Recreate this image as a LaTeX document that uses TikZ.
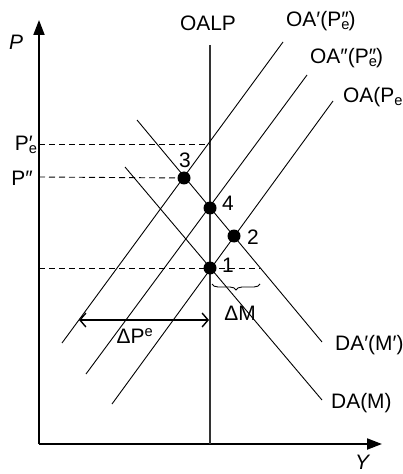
\documentclass[tikz,border=0pt]{standalone}
\usepackage{fontspec}
\setmainfont{Liberation Sans}
\usetikzlibrary{arrows.meta,decorations.pathreplacing}
% prime with subscript e beneath it
\newcommand{\primesub}[1]{\rlap{\textsubscript{e}}#1}

\begin{document}
\begin{tikzpicture}[x=1bp,y=-1bp,
    curve/.style={line width=0.9bp},
    guide/.style={line width=0.9bp, dash pattern=on 6bp off 4bp},
    eqpt/.style={circle, fill, inner sep=0pt, minimum size=13bp},
    lbl/.style={font=\fontsize{21}{24}\selectfont, inner sep=1bp}]
        \useasboundingbox (0,0) rectangle (402,474);
        % axes
        \coordinate (O) at (39,444);
        \coordinate (ytop) at (39,20);
        \coordinate (xend) at (382,444);
        \draw[line width=2bp,-{Triangle[length=15bp,width=11bp]}] (O) -- (ytop);
        \draw[line width=2bp,-{Triangle[length=15bp,width=11bp]}] (O) -- (xend);
        \node[lbl,font=\fontsize{21}{24}\selectfont\itshape] (plbl) at (16,42) {P};
        \node[lbl,font=\fontsize{21}{24}\selectfont\itshape] (ylbl) at (362,462) {Y};
        % long run supply
        \coordinate (lptop) at (210,45);
        \coordinate (lpbot) at (210,444);
        \draw[line width=1.2bp,black!80] (lptop) -- (lpbot);
        \node[lbl] (oalp) at (208,23) {OALP};
        % supply curves
        \draw[curve] (283,42) -- (62,343);
        \draw[curve] (307,75) -- (86,374);
        \draw[curve] (333,101) -- (112,404);
        \node[lbl,anchor=west] (oa1) at (285,21) {OA′(P\primesub{″})};
        \node[lbl,anchor=west] (oa2) at (309,58) {OA″(P\primesub{″})};
        \node[lbl,anchor=west] (oa0) at (342,97) {OA(P\textsubscript{e})};
        % demand curves
        \draw[curve] (137,120) -- (322,342);
        \draw[curve] (125,167) -- (322,400);
        \node[lbl,anchor=west] (da1) at (334,345) {DA′(M′)};
        \node[lbl,anchor=west] (da0) at (330,403) {DA(M)};
        % equilibria
        \node[eqpt] (e1) at (210,268) {};
        \node[eqpt] (e2) at (234,236) {};
        \node[eqpt] (e3) at (184,178) {};
        \node[eqpt] (e4) at (210,208) {};
        \node[lbl] at (228,265) {1};
        \node[lbl] at (253,237) {2};
        \node[lbl] at (185,160) {3};
        \node[lbl] at (228,203) {4};
        % price levels
        \coordinate (pe) at (39,144);
        \coordinate (pp) at (39,177);
        \coordinate (p1) at (39,268);
        \coordinate (p1end) at (260,268);
        \draw[guide] (pe) -- (210,144);
        \draw[guide] (pp) -- (e3);
        \draw[guide] (p1) -- (p1end);
        \node[lbl,anchor=east] (pelbl) at (34,145) {P\primesub{′}};
        \node[lbl,anchor=east] (pplbl) at (34,178) {P″};
        % shifts
        \draw[line width=0.9bp,decorate,decoration={brace,mirror,amplitude=6bp}] (212,284) -- (260,284);
        \node[lbl] (dm) at (240,313) {ΔM};
        \coordinate (dpl) at (79,320);
        \coordinate (dpr) at (209,320);
        \draw[line width=1.4bp,{Straight Barb[length=6bp,width=14bp]}-{Straight Barb[length=6bp,width=14bp]}] (dpl) -- (dpr);
        \node[lbl] (dp) at (135,336) {ΔP\textsuperscript{e}};
    \end{tikzpicture}
\end{document}
